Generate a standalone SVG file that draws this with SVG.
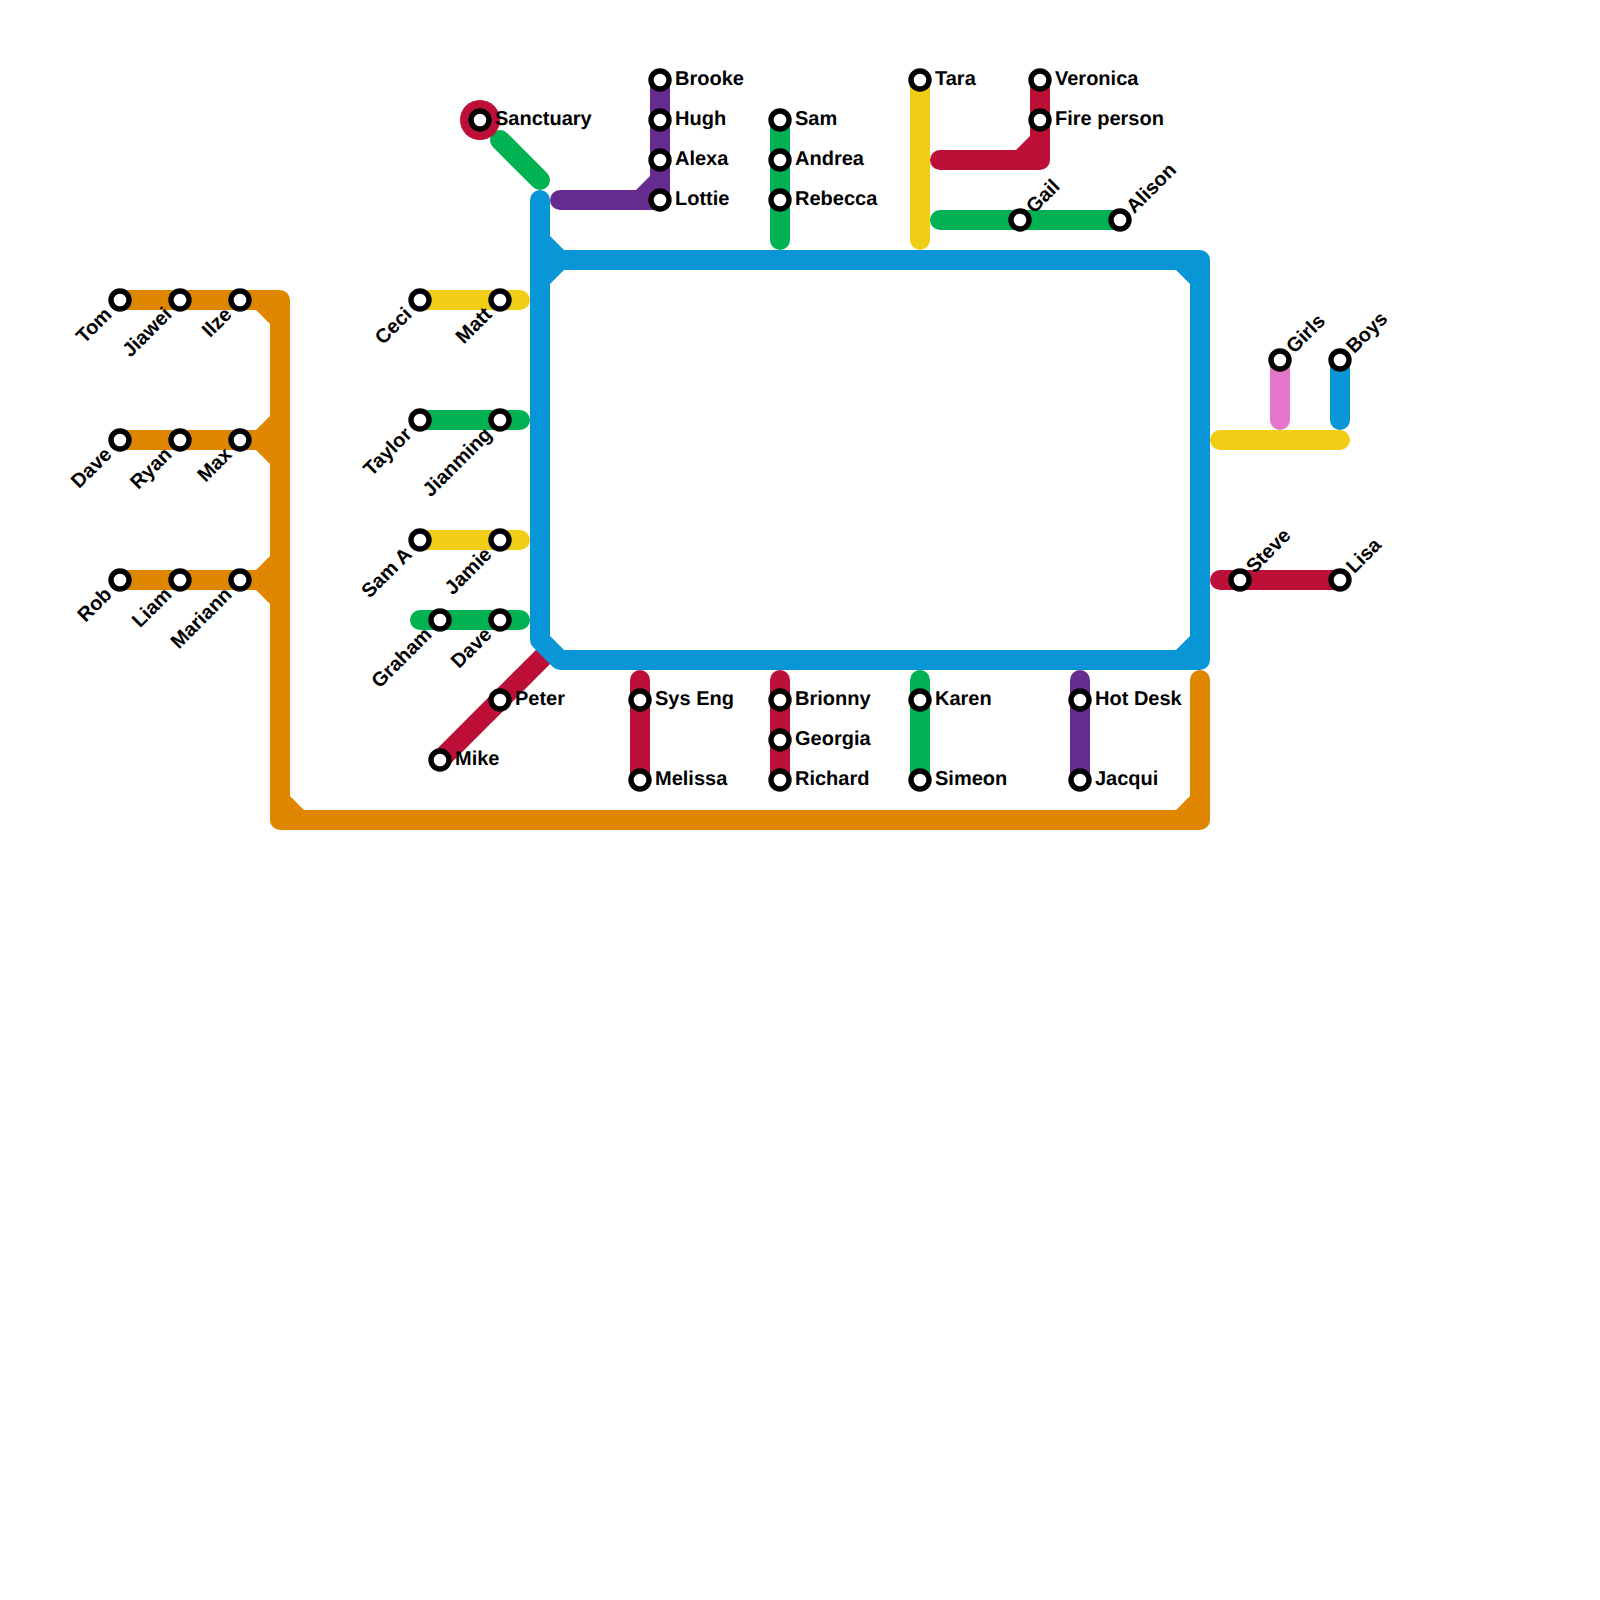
<svg xmlns="http://www.w3.org/2000/svg" width="1600" height="1600" viewBox="0 0 1600 1600">
<style>
.l{fill:none;stroke-width:20;stroke-linecap:round;stroke-linejoin:round}
.o{stroke:#df8600}.b{stroke:#0896d7}.y{stroke:#f0ce15}.g{stroke:#00b251}.r{stroke:#bd1038}.p{stroke:#662c90}.k{stroke:#e377c9}
.fo{fill:#df8600}.fb{fill:#0896d7}.fp{fill:#662c90}.fr{fill:#bd1038}
.m{fill:#fff;stroke:#000;stroke-width:5.4}
text{font-family:"Liberation Sans",Arial,sans-serif;font-size:20px;font-weight:700;fill:#000;text-rendering:geometricPrecision}
.e{text-anchor:end}
</style>
<rect width="1600" height="1600" fill="#fff"/>
<g id="connectors">
<path class="l r" stroke-linecap="butt" style="stroke-linecap:butt" d="M440 760L550 650"/>
<path class="l o" d="M120 300H280V820H1200V680"/>
<path class="l o" d="M120 440H280M120 580H280"/>
<polygon class="fo" points="256,310 270,310 270,324"/>
<polygon class="fo" points="256,430 270,416 270,464 256,450"/>
<polygon class="fo" points="256,570 270,556 270,604 256,590"/>
<polygon class="fo" points="290,796 290,810 304,810"/>
<polygon class="fo" points="1176,810 1190,810 1190,796"/>
<path class="l b" d="M540 200V640L560 660H1200V260H540"/>
<polygon class="fb" points="550,236 564,250 564,270 550,284"/>
<polygon class="fb" points="1176,270 1190,270 1190,284"/>
<polygon class="fb" points="1176,650 1190,650 1190,636"/>
<path class="l y" d="M420 300H520"/>
<path class="l g" d="M420 420H520"/>
<path class="l y" d="M420 540H520"/>
<path class="l g" d="M420 620H520"/>
<path class="l g" d="M500 140L540 180"/>
<path class="l p" d="M560 200H660V80"/>
<polygon class="fp" points="636,190 650,176 650,190"/>
<path class="l g" d="M780 120V240"/>
<path class="l y" d="M920 80V240"/>
<path class="l r" d="M940 160H1040V80"/>
<polygon class="fr" points="1016,150 1030,136 1030,150"/>
<path class="l g" d="M940 220H1120"/>
<path class="l k" d="M1280 360V420"/>
<path class="l b" d="M1340 360V420"/>
<path class="l y" d="M1220 440H1340"/>
<path class="l r" d="M1220 580H1340"/>
<path class="l r" d="M640 680V780"/>
<path class="l r" d="M780 680V780"/>
<path class="l g" d="M920 680V780"/>
<path class="l p" d="M1080 680V780"/>
</g>
<g id="nodes">
<g id="n-tom"><circle class="m" cx="120" cy="300" r="9"/><text class="e" transform="translate(120 300) rotate(-45)" x="-16" y="6">Tom</text></g>
<g id="n-jiawei"><circle class="m" cx="180" cy="300" r="9"/><text class="e" transform="translate(180 300) rotate(-45)" x="-16" y="6">Jiawei</text></g>
<g id="n-ilze"><circle class="m" cx="240" cy="300" r="9"/><text class="e" transform="translate(240 300) rotate(-45)" x="-16" y="6">Ilze</text></g>
<g id="n-dave1"><circle class="m" cx="120" cy="440" r="9"/><text class="e" transform="translate(120 440) rotate(-45)" x="-16" y="6">Dave</text></g>
<g id="n-ryan"><circle class="m" cx="180" cy="440" r="9"/><text class="e" transform="translate(180 440) rotate(-45)" x="-16" y="6">Ryan</text></g>
<g id="n-max"><circle class="m" cx="240" cy="440" r="9"/><text class="e" transform="translate(240 440) rotate(-45)" x="-16" y="6">Max</text></g>
<g id="n-rob"><circle class="m" cx="120" cy="580" r="9"/><text class="e" transform="translate(120 580) rotate(-45)" x="-16" y="6">Rob</text></g>
<g id="n-liam"><circle class="m" cx="180" cy="580" r="9"/><text class="e" transform="translate(180 580) rotate(-45)" x="-16" y="6">Liam</text></g>
<g id="n-mariann"><circle class="m" cx="240" cy="580" r="9"/><text class="e" transform="translate(240 580) rotate(-45)" x="-16" y="6">Mariann</text></g>
<g id="n-ceci"><circle class="m" cx="420" cy="300" r="9"/><text class="e" transform="translate(420 300) rotate(-45)" x="-16" y="6">Ceci</text></g>
<g id="n-matt"><circle class="m" cx="500" cy="300" r="9"/><text class="e" transform="translate(500 300) rotate(-45)" x="-16" y="6">Matt</text></g>
<g id="n-taylor"><circle class="m" cx="420" cy="420" r="9"/><text class="e" transform="translate(420 420) rotate(-45)" x="-16" y="6">Taylor</text></g>
<g id="n-jianming"><circle class="m" cx="500" cy="420" r="9"/><text class="e" transform="translate(500 420) rotate(-45)" x="-16" y="6">Jianming</text></g>
<g id="n-sama"><circle class="m" cx="420" cy="540" r="9"/><text class="e" transform="translate(420 540) rotate(-45)" x="-16" y="6">Sam A</text></g>
<g id="n-jamie"><circle class="m" cx="500" cy="540" r="9"/><text class="e" transform="translate(500 540) rotate(-45)" x="-16" y="6">Jamie</text></g>
<g id="n-graham"><circle class="m" cx="440" cy="620" r="9"/><text class="e" transform="translate(440 620) rotate(-45)" x="-16" y="6">Graham</text></g>
<g id="n-dave2"><circle class="m" cx="500" cy="620" r="9"/><text class="e" transform="translate(500 620) rotate(-45)" x="-16" y="6">Dave</text></g>
<g id="n-sanctuary"><circle cx="480" cy="120" r="20" fill="#bd1038"/><circle class="m" cx="480" cy="120" r="9"/><text x="495" y="125">Sanctuary</text></g>
<g id="n-brooke"><circle class="m" cx="660" cy="80" r="9"/><text x="675" y="85">Brooke</text></g>
<g id="n-hugh"><circle class="m" cx="660" cy="120" r="9"/><text x="675" y="125">Hugh</text></g>
<g id="n-alexa"><circle class="m" cx="660" cy="160" r="9"/><text x="675" y="165">Alexa</text></g>
<g id="n-lottie"><circle class="m" cx="660" cy="200" r="9"/><text x="675" y="205">Lottie</text></g>
<g id="n-sam"><circle class="m" cx="780" cy="120" r="9"/><text x="795" y="125">Sam</text></g>
<g id="n-andrea"><circle class="m" cx="780" cy="160" r="9"/><text x="795" y="165">Andrea</text></g>
<g id="n-rebecca"><circle class="m" cx="780" cy="200" r="9"/><text x="795" y="205">Rebecca</text></g>
<g id="n-tara"><circle class="m" cx="920" cy="80" r="9"/><text x="935" y="85">Tara</text></g>
<g id="n-veronica"><circle class="m" cx="1040" cy="80" r="9"/><text x="1055" y="85">Veronica</text></g>
<g id="n-fire"><circle class="m" cx="1040" cy="120" r="9"/><text x="1055" y="125">Fire person</text></g>
<g id="n-gail"><circle class="m" cx="1020" cy="220" r="9"/><text transform="translate(1020 220) rotate(-45)" x="14" y="6">Gail</text></g>
<g id="n-alison"><circle class="m" cx="1120" cy="220" r="9"/><text transform="translate(1120 220) rotate(-45)" x="14" y="6">Alison</text></g>
<g id="n-girls"><circle class="m" cx="1280" cy="360" r="9"/><text transform="translate(1280 360) rotate(-45)" x="14" y="6">Girls</text></g>
<g id="n-boys"><circle class="m" cx="1340" cy="360" r="9"/><text transform="translate(1340 360) rotate(-45)" x="14" y="6">Boys</text></g>
<g id="n-steve"><circle class="m" cx="1240" cy="580" r="9"/><text transform="translate(1240 580) rotate(-45)" x="14" y="6">Steve</text></g>
<g id="n-lisa"><circle class="m" cx="1340" cy="580" r="9"/><text transform="translate(1340 580) rotate(-45)" x="14" y="6">Lisa</text></g>
<g id="n-peter"><circle class="m" cx="500" cy="700" r="9"/><text x="515" y="705">Peter</text></g>
<g id="n-mike"><circle class="m" cx="440" cy="760" r="9"/><text x="455" y="765">Mike</text></g>
<g id="n-syseng"><circle class="m" cx="640" cy="700" r="9"/><text x="655" y="705">Sys Eng</text></g>
<g id="n-melissa"><circle class="m" cx="640" cy="780" r="9"/><text x="655" y="785">Melissa</text></g>
<g id="n-brionny"><circle class="m" cx="780" cy="700" r="9"/><text x="795" y="705">Brionny</text></g>
<g id="n-georgia"><circle class="m" cx="780" cy="740" r="9"/><text x="795" y="745">Georgia</text></g>
<g id="n-richard"><circle class="m" cx="780" cy="780" r="9"/><text x="795" y="785">Richard</text></g>
<g id="n-karen"><circle class="m" cx="920" cy="700" r="9"/><text x="935" y="705">Karen</text></g>
<g id="n-simeon"><circle class="m" cx="920" cy="780" r="9"/><text x="935" y="785">Simeon</text></g>
<g id="n-hotdesk"><circle class="m" cx="1080" cy="700" r="9"/><text x="1095" y="705">Hot Desk</text></g>
<g id="n-jacqui"><circle class="m" cx="1080" cy="780" r="9"/><text x="1095" y="785">Jacqui</text></g>
</g>
</svg>
